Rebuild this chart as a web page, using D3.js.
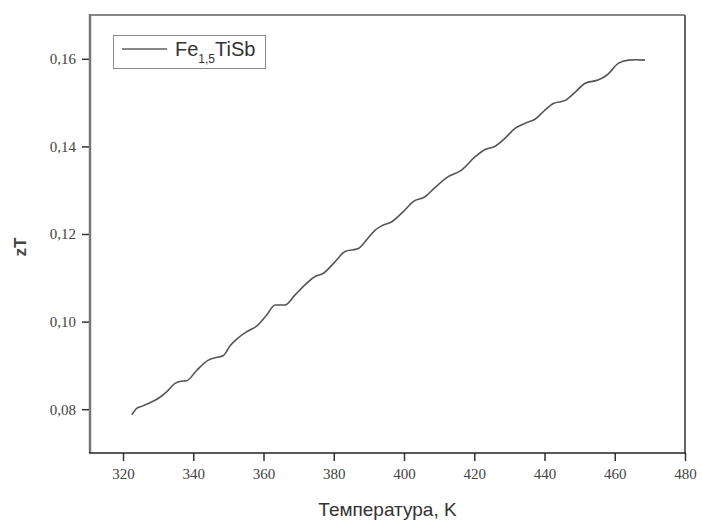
<!DOCTYPE html>
<html>
<head>
<meta charset="utf-8">
<script src="https://cdn.jsdelivr.net/npm/d3@7"></script>
<style>
  html, body { margin: 0; padding: 0; background: #fff; }
  svg { display: block; }
</style>
</head>
<body>
<svg id="chart" width="702" height="520"></svg>
<script>
// Data
const temperature = [322.5, 323.9, 325.5, 327.2, 330.1, 332.5, 334.8, 336.5, 338.1, 341.0,
  344.3, 346.5, 348.5, 350.5, 352.8, 355.5, 358.1, 360.9, 363.3, 366.1,
  369.0, 371.8, 374.7, 377.0, 380.4, 383.2, 387.0, 389.5, 391.8, 394.0,
  396.5, 399.8, 402.6, 406.0, 408.8, 412.6, 416.4, 420.2, 423.1, 425.9,
  428.8, 431.6, 434.5, 437.3, 440.0, 442.5, 445.9, 448.5, 451.6, 455.4,
  457.8, 461.1, 463.9, 466.0, 468.6];
const zT = [0.0787, 0.0802, 0.0807, 0.0813, 0.0825, 0.0840, 0.0859, 0.0864, 0.0865, 0.0889,
  0.0912, 0.0918, 0.0922, 0.0945, 0.0963, 0.0978, 0.0990, 0.1015, 0.1038, 0.1038,
  0.1061, 0.1084, 0.1103, 0.1110, 0.1137, 0.1160, 0.1167, 0.1188, 0.1209, 0.1220,
  0.1228, 0.1251, 0.1274, 0.1285, 0.1306, 0.1331, 0.1346, 0.1376, 0.1393, 0.1400,
  0.1419, 0.1441, 0.1453, 0.1462, 0.1482, 0.1498, 0.1505, 0.1522, 0.1544, 0.1552,
  0.1563, 0.1590, 0.1597, 0.1598, 0.1597];
const xTicks = [320, 340, 360, 380, 400, 420, 440, 460, 480];
const yTicks = [0.08, 0.10, 0.12, 0.14, 0.16];
const seriesName = "Fe";
const seriesSub = "1,5";
const seriesRest = "TiSb";
const xTitle = "Температура, K";
const yTitle = "zT";

const svg = d3.select("#chart");
const L = 90, R = 685, T = 15, B = 453;

const x = d3.scaleLinear().domain([310.6, 480]).range([L, R]);
const y = d3.scaleLinear().domain([0.07, 0.17]).range([B, T]);

const fmt = d => d.toFixed(2).replace(".", ",");
const serif = "'Liberation Serif', 'Times New Roman', 'DejaVu Serif', serif";
const sans = "'Liberation Sans', Arial, sans-serif";

// axes
const xAxis = svg.append("g").attr("transform", `translate(0,${B})`)
  .call(d3.axisBottom(x).tickValues(xTicks).tickSize(8).tickPadding(5).tickFormat(d3.format("d")));
const yAxis = svg.append("g").attr("transform", `translate(${L},0)`)
  .call(d3.axisLeft(y).tickValues(yTicks).tickSize(8).tickPadding(6).tickFormat(fmt));
[xAxis, yAxis].forEach(a => {
  a.attr("font-family", serif);
  a.select(".domain").remove();
  a.selectAll(".tick line").attr("stroke", "#333").attr("stroke-width", 1.5);
  a.selectAll(".tick text").style("font-family", serif)
    .attr("font-size", 15).attr("fill", "#444");
});
xAxis.selectAll(".tick text").attr("dy", "0.85em");

// frame
svg.append("line").attr("x1", L).attr("x2", R).attr("y1", T).attr("y2", T).attr("stroke", "#888").attr("stroke-width", 2);
svg.append("line").attr("x1", R).attr("x2", R).attr("y1", T).attr("y2", B).attr("stroke", "#666").attr("stroke-width", 2);
svg.append("line").attr("x1", L).attr("x2", L).attr("y1", T - 1).attr("y2", B).attr("stroke", "#777").attr("stroke-width", 2.5);
svg.append("line").attr("x1", L - 1).attr("x2", R + 1).attr("y1", B).attr("y2", B).attr("stroke", "#222").attr("stroke-width", 1.5);

// line
const pts = temperature.map((t, i) => [t, zT[i]]);
const line = d3.line().x(d => x(d[0])).y(d => y(d[1])).curve(d3.curveMonotoneX);
svg.append("path").datum(pts).attr("d", line)
  .attr("fill", "none").attr("stroke", "#555").attr("stroke-width", 1.6);

// legend
const lg = svg.append("g");
lg.append("rect").attr("x", 113.5).attr("y", 35.5).attr("width", 152).attr("height", 33)
  .attr("fill", "#fff").attr("stroke", "#888").attr("stroke-width", 1);
lg.append("line").attr("x1", 122).attr("x2", 167).attr("y1", 49).attr("y2", 49)
  .attr("stroke", "#888").attr("stroke-width", 2);
const lt = lg.append("text").attr("x", 175).attr("y", 56)
  .attr("font-family", sans).attr("font-size", 20).attr("fill", "#333");
lt.append("tspan").text(seriesName);
lt.append("tspan").attr("font-size", 12).attr("dy", 7).text(seriesSub);
lt.append("tspan").attr("dy", -7).text(seriesRest);

// titles
svg.append("text").attr("x", (L + R) / 2).attr("y", 516).attr("text-anchor", "middle")
  .attr("font-family", sans).attr("font-size", 19).attr("fill", "#333")
  .text(xTitle);
svg.append("text").attr("transform", `translate(26,247) rotate(-90)`).attr("text-anchor", "middle")
  .attr("font-family", sans).attr("font-size", 17).attr("font-weight", "bold")
  .attr("fill", "#444").text(yTitle);
</script>
</body>
</html>
